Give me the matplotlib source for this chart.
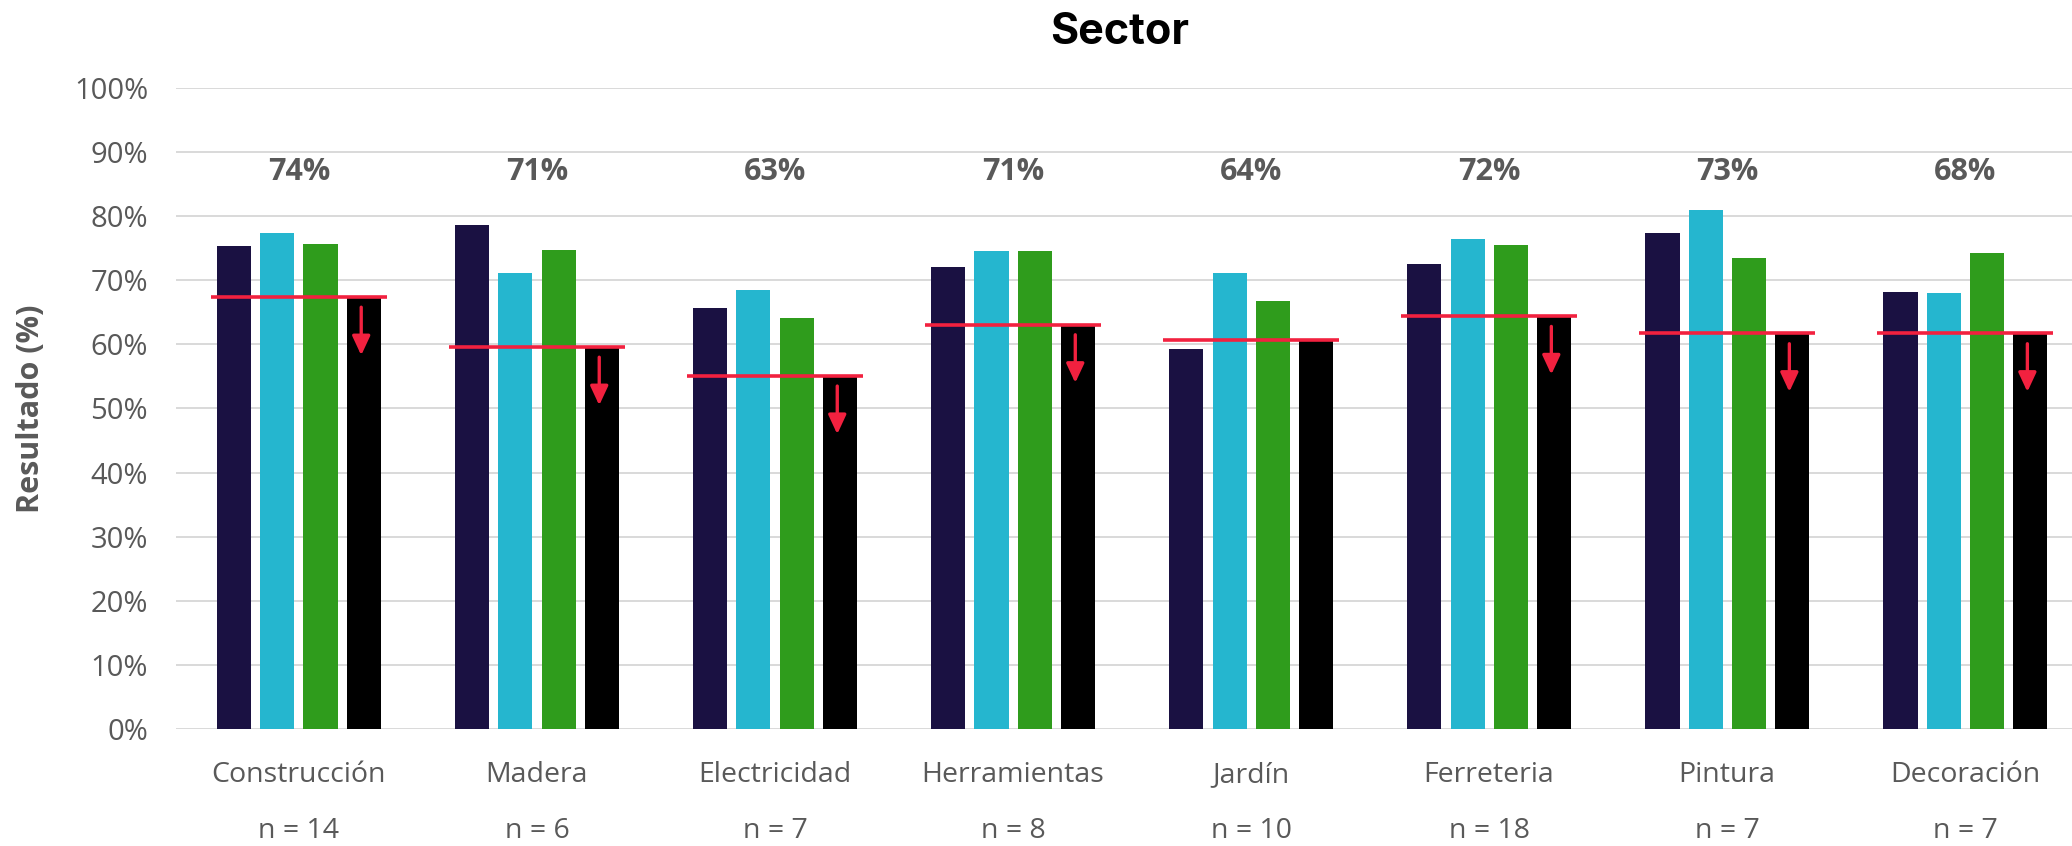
import numpy as np
import matplotlib
matplotlib.use("Agg")
import matplotlib.pyplot as plt
from matplotlib.transforms import blended_transform_factory


categories = ["Construcción", "Madera", "Electricidad", "Herramientas",
              "Jardín", "Ferreteria", "Pintura", "Decoración"]
n_values = [14, 6, 7, 8, 10, 18, 7, 7]

serie_1 = [75.3, 78.6, 65.7, 72.0, 59.3, 72.6, 77.4, 68.2]
serie_2 = [77.3, 71.1, 68.5, 74.6, 71.2, 76.4, 80.9, 68.0]
serie_3 = [75.7, 74.7, 64.1, 74.6, 66.7, 75.5, 73.4, 74.3]
serie_4 = [67.3, 59.5, 55.0, 63.0, 60.6, 64.3, 61.6, 61.6]
referencia = [67.4, 59.6, 55.1, 63.0, 60.7, 64.4, 61.7, 61.7]
baja = [True, True, True, True, False, True, True, True]

colors = ["#1a1142", "#25b6cf", "#2f9c1c", "#000000"]
RED = "#f2213f"
GRAY = "#595959"

plt.rcParams["font.family"] = ["Open Sans", "DejaVu Sans"]


def main():
    fig = plt.figure(figsize=(20.72, 8.46), dpi=100)
    ax = fig.add_axes([0.0849, 0.1383, 0.9151, 0.7577])

    x = np.arange(len(categories))
    width = 0.143
    pitch = 0.181
    series = [serie_1, serie_2, serie_3, serie_4]
    for k, vals in enumerate(series):
        ax.bar(x + (k - 1.5) * pitch, vals, width=width, color=colors[k],
               zorder=3, linewidth=0)

    # reference line over each group + arrow inside the last bar
    for i in range(len(categories)):
        ax.plot([x[i] - 0.37, x[i] + 0.37], [referencia[i], referencia[i]],
                color=RED, lw=2.6, zorder=4, solid_capstyle="butt")
        if baja[i]:
            xa = x[i] + 1.5 * pitch - 0.01
            ax.annotate("", xy=(xa, serie_4[i] - 9.0),
                        xytext=(xa, serie_4[i] - 1.5),
                        arrowprops=dict(arrowstyle="-|>,head_length=0.58,head_width=0.27",
                                        mutation_scale=20, color=RED, lw=2.4,
                                        shrinkA=0, shrinkB=0),
                        zorder=5)

    # mean label per group
    for i in range(len(categories)):
        mean = np.mean([s[i] for s in series])
        ax.text(x[i], 86.9, f"{mean:.0f}%", ha="center", va="center",
                fontsize=22, fontweight="bold", color=GRAY)

    trans = blended_transform_factory(ax.transData, ax.transAxes)
    for i, cat in enumerate(categories):
        ax.text(x[i], -0.072, cat, transform=trans, ha="center", va="center",
                fontsize=20.5, color=GRAY)
        ax.text(x[i], -0.159, f"n = {n_values[i]}", transform=trans,
                ha="center", va="center", fontsize=20.5, color=GRAY)

    ax.set_xlim(-0.517, 7.449)
    ax.set_ylim(0, 100)
    ax.set_xticks([])
    ax.set_yticks(np.arange(0, 101, 10))
    ax.set_yticklabels([f"{v}%" for v in range(0, 101, 10)])
    ax.tick_params(axis="y", length=0, pad=20, labelsize=21, labelcolor=GRAY)
    ax.grid(axis="y", color="#d9d9d9", lw=1.4, zorder=0)
    for side in ["top", "right", "left", "bottom"]:
        ax.spines[side].set_visible(False)

    ax.set_ylabel("Resultado (%)", fontsize=22, color=GRAY, fontweight="bold",
                  labelpad=20)

    fig.text(1120 / 2072, 1 - 32 / 846, "Sector", ha="center", va="center",
             fontsize=31, fontweight="bold", family=["Inter", "DejaVu Sans"],
             color="black")

    fig.savefig("out.png", dpi=100)
    plt.close(fig)


if __name__ == "__main__":
    main()
